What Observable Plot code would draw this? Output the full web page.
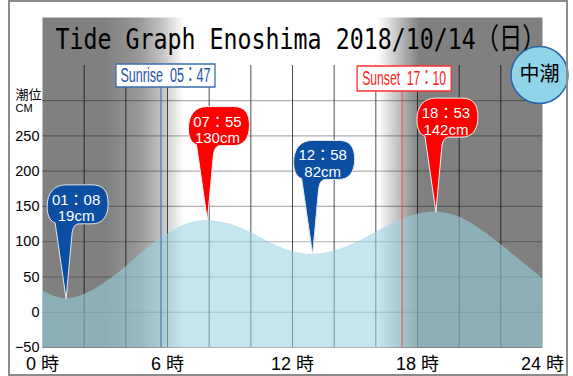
<!DOCTYPE html>
<html><head><meta charset="utf-8">
<script src="https://cdn.jsdelivr.net/npm/d3@7"></script>
<script src="https://cdn.jsdelivr.net/npm/@observablehq/plot@0.6"></script>
<style>
html,body{margin:0;padding:0;background:#fff;}
#wrap{position:relative;width:573px;height:376px;overflow:hidden;}
#border{position:absolute;left:8px;top:0;width:560px;height:376px;box-sizing:border-box;border:2px solid #8c8c8c;pointer-events:none;}
</style></head><body>
<div id="wrap"><div id="chart"></div><div id="border"></div></div>
<script>
// ---- data ----
const title = "Tide Graph Enoshima 2018/10/14（日）";
const tideName = "中潮";
const hours  = [0, 1, 2, 3, 4, 5, 6, 7, 8, 9, 10, 11, 12, 13, 14, 15, 16, 17, 18, 19, 20, 21, 22, 23, 24];
const tideCm = [30, 19.3, 25, 42, 64, 90, 111, 126, 129.9, 125, 113, 98, 86, 82.1, 87, 98, 113, 128, 139, 141.9, 135, 118, 96, 72, 48];
const extremeTimes = ["01:08", "07:55", "12:58", "18:53"];
const extremeCm    = [19, 130, 82, 142];
const extremeKind  = ["low", "high", "low", "high"];
const sunriseTime = "05:47";
const sunsetTime  = "17:10";
const xTicks = [0, 6, 12, 18, 24];
const yTickLabels = [-50, 0, 50, 100, 150, 200, 250];
const yGrid = [-50, 0, 50, 100, 150, 200, 250, 300];
const xGrid = [2, 4, 6, 8, 10, 12, 14, 16, 18, 20, 22];

// ---- derived tables ----
const toH = t => { const [h, m] = t.split(":").map(Number); return h + m / 60; };
const extremes = extremeTimes.map((t, i) => ({t, h: toH(t), v: extremeCm[i], kind: extremeKind[i]}));
const tide = hours.map((h, i) => ({h, v: tideCm[i]}))
  .concat(extremes.map(e => ({h: e.h, v: e.v})))
  .sort((a, b) => a.h - b.h);
const highs = extremes.filter(e => e.kind === "high");
const lows = extremes.filter(e => e.kind === "low");
const sunriseH = toH(sunriseTime), sunsetH = toH(sunsetTime);
const fw = t => t.replace(":", "：");

// ---- glyphs ----
const bubble = {draw(ctx) {
  ctx.moveTo(0, 0);
  ctx.lineTo(-11, -76);
  ctx.bezierCurveTo(-15, -77, -19, -82, -19, -92);
  ctx.bezierCurveTo(-19, -106, -12, -114, 0, -114);
  ctx.lineTo(26, -114);
  ctx.bezierCurveTo(37, -114, 42, -108, 42, -95);
  ctx.bezierCurveTo(42, -82, 36, -75, 26, -75);
  ctx.lineTo(13, -75);
  ctx.bezierCurveTo(9, -75, 7, -72, 6, -66);
  ctx.closePath();
}};
const box = (w, h) => ({draw(ctx) { ctx.rect(-w / 2, -h / 2, w, h); }});

const font = "'Liberation Sans','Noto Sans CJK JP',sans-serif";
const blue = "#0b4ea2", red = "#ff0000";
const mid = {lineAnchor: "middle"};

const chart = Plot.plot({
  width: 573, height: 376,
  marginLeft: 42, marginRight: 31, marginTop: 17, marginBottom: 29,
  x: {domain: [0, 24], axis: null},
  y: {domain: [-50, 418], axis: null},
  style: {fontFamily: font, background: "white"},
  marks: [
    Plot.ruleY(yGrid, {y: d => d, x1: 0, x2: 24, stroke: "#b0b0b0", strokeWidth: 1.2}),
    Plot.ruleX(xGrid, {x: d => d, y1: -50, y2: 350, stroke: "#4e4e4e", strokeWidth: 1}),
    Plot.frame({fill: "url(#nightShade)", stroke: "none"}),
    Plot.areaY(tide, {x: "h", y1: -50, y2: "v", curve: "monotone-x", fill: "rgb(150,211,227)", fillOpacity: 0.57}),
    Plot.ruleX([sunriseH], {x: d => d, y1: -50, y2: 330, stroke: "#3a70b8", strokeWidth: 1.2, strokeOpacity: 0.85, dx: -2}),
    Plot.ruleX([sunsetH], {x: d => d, y1: -50, y2: 330, stroke: "#ff3030", strokeWidth: 1, strokeOpacity: 0.8, dx: 2}),
    Plot.dot([sunriseH], {x: d => d, frameAnchor: "top", dy: 58, dx: 2.5, symbol: box(99, 23), fill: "white", stroke: "#3a6eb0", strokeWidth: 1.3}),
    Plot.text([sunriseH], {...mid, x: d => d, frameAnchor: "top", dy: 58.5, dx: 2.5, text: () => "Sunrise  " + fw(sunriseTime), fill: "#1f55a5", fontSize: 20}),
    Plot.dot([sunsetH], {x: d => d, frameAnchor: "top", dy: 61, dx: 4, symbol: box(94, 25), fill: "white", stroke: "#ff3030", strokeWidth: 1.3}),
    Plot.text([sunsetH], {...mid, x: d => d, frameAnchor: "top", dy: 61.5, dx: 4, text: () => "Sunset  " + fw(sunsetTime), fill: "#ff1a1a", fontSize: 20}),
    Plot.text([title], {...mid, frameAnchor: "top", dx: 8, dy: 22, text: d => d, fontSize: 29, fill: "black", fontFamily: "'DejaVu Sans Mono','Noto Sans CJK JP',monospace"}),
    Plot.dot(lows, {x: "h", y: "v", symbol: bubble, fill: blue, stroke: "#e6e6e6", strokeWidth: 1}),
    Plot.dot(highs, {x: "h", y: "v", symbol: bubble, fill: red, stroke: "#f2f2f2", strokeWidth: 1}),
    Plot.text(extremes, {x: "h", y: "v", dx: 10, dy: -91, text: d => fw(d.t) + "\n" + d.v + "cm", fill: "white", fontSize: 15, lineHeight: 1.1}),
    Plot.dot([tideName], {frameAnchor: "top-right", dx: -3, dy: 57.5, r: 28.5, fill: "#8fd4e8", stroke: "#2a64a8", strokeWidth: 1.5}),
    Plot.text([tideName], {...mid, textAnchor: "middle", frameAnchor: "top-right", dx: -3, dy: 57.5, text: d => d, fontSize: 20, fill: "black", fontFamily: "'Noto Sans CJK JP',sans-serif"}),
    Plot.text(yTickLabels, {...mid, y: d => d, frameAnchor: "left", dx: -3, textAnchor: "end", text: d => d < 0 ? "\u2212" + (-d) : String(d), fontSize: 14.5, fill: "black"}),
    Plot.text(["潮位"], {...mid, frameAnchor: "top-left", dx: -27, dy: 77, textAnchor: "start", text: d => d, fontSize: 13, fill: "black", fontFamily: "'Noto Sans CJK JP',sans-serif"}),
    Plot.text(["CM"], {...mid, frameAnchor: "top-left", dx: -27, dy: 91, textAnchor: "start", text: d => d, fontSize: 11, fill: "black"}),
    Plot.text(xTicks, {...mid, x: d => d, frameAnchor: "bottom", dy: 17, text: d => d + " 時", fontSize: 18, fill: "black"})
  ]
});

// gradient for day / night shading, stops placed along the 0–24 h frame
const shade = [
  [0, 0.5], [sunriseH - 2.8, 0.5], [sunriseH - 1.1, 0.4], [sunriseH, 0.23], [sunriseH + 1.0, 0],
  [sunsetH - 1.07, 0], [sunsetH - 0.07, 0.25], [sunsetH + 0.93, 0.5], [24, 0.5]
];
const svg = d3.select(chart);
const grad = svg.insert("defs", ":first-child").append("linearGradient")
  .attr("id", "nightShade").attr("x1", 0).attr("x2", 1).attr("y1", 0).attr("y2", 0);
shade.forEach(([h, o]) => grad.append("stop").attr("offset", h / 24).attr("stop-color", "black").attr("stop-opacity", o));

// condensed lettering like the reference
const squeeze = {[title]: 490, ["Sunrise  " + fw(sunriseTime)]: 90, ["Sunset  " + fw(sunsetTime)]: 84};
svg.selectAll("text").each(function() {
  const w = squeeze[this.textContent];
  if (w) d3.select(this).attr("textLength", w).attr("lengthAdjust", "spacingAndGlyphs");
});

document.getElementById("chart").appendChild(chart);
</script>
</body></html>
